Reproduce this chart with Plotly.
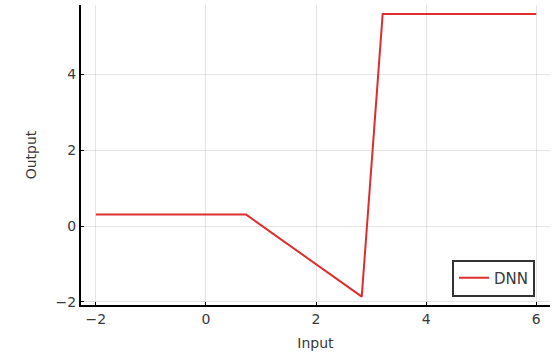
import plotly.graph_objects as go

x_vals = [-2.0, 0.73, 2.83, 3.21, 6.0]
y_vals = [0.3, 0.3, -1.86, 5.58, 5.58]
series_name = "DNN"
x_ticks = [-2, 0, 2, 4, 6]
y_ticks = [-2, 0, 2, 4]

FONT = "DejaVu Sans"
TXT = "#3a3a3a"

fig = go.Figure()
fig.add_trace(go.Scatter(x=x_vals, y=y_vals, mode="lines", name=series_name,
                         line=dict(color="rgb(222,45,45)", width=2)))

axis_common = dict(showgrid=True, gridcolor="rgba(0,0,0,0.1)", gridwidth=1,
                   zeroline=False, showline=True, linecolor="black", linewidth=2,
                   ticks="inside", ticklen=3, tickcolor="black",
                   tickfont=dict(family=FONT, size=14, color=TXT),
                   mirror=False, automargin=False)
fig.update_xaxes(range=[-2.27, 6.25], tickvals=x_ticks,
                 ticktext=[str(v).replace("-", "\u2212") for v in x_ticks],
                 title=dict(text="Input", font=dict(family=FONT, size=14, color=TXT), standoff=12),
                 **axis_common)
fig.update_yaxes(range=[-2.08, 5.82], tickvals=y_ticks,
                 ticktext=[str(v).replace("-", "\u2212") for v in y_ticks],
                 title=dict(text="Output", font=dict(family=FONT, size=14, color=TXT), standoff=16),
                 **axis_common)
fig.update_layout(
    width=557, height=357,
    margin=dict(l=81, r=7, t=5, b=52),
    plot_bgcolor="white", paper_bgcolor="white",
    showlegend=True,
    legend=dict(x=0.968, y=0.028, xanchor="right", yanchor="bottom",
                bordercolor="#333", borderwidth=2, bgcolor="white",
                font=dict(family=FONT, size=15, color=TXT)),
)
fig.write_html("out.html", config={"displayModeBar": False},
               post_script="document.body.style.margin='0';")
